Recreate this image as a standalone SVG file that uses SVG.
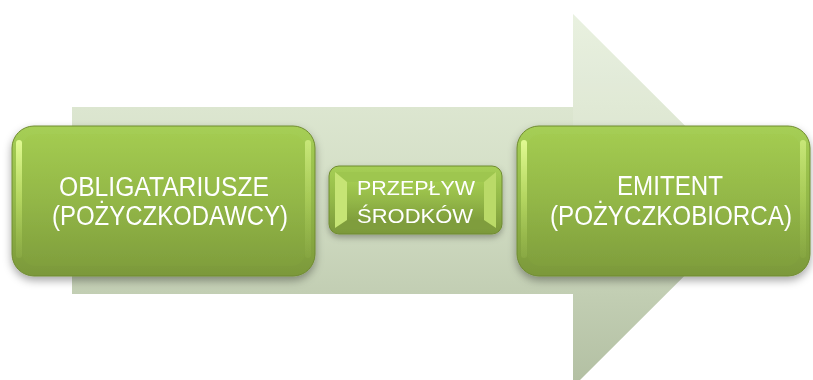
<svg xmlns="http://www.w3.org/2000/svg" width="813" height="380" viewBox="0 0 813 380">
  <defs>
    <linearGradient id="arrowGrad" x1="0" y1="0" x2="0" y2="1">
      <stop offset="0" stop-color="#e6efdc"/>
      <stop offset="0.5" stop-color="#d2ddc4"/>
      <stop offset="1" stop-color="#b2bfa2"/>
    </linearGradient>
    <linearGradient id="boxGrad" x1="0" y1="0" x2="0" y2="1">
      <stop offset="0" stop-color="#a6cf55"/>
      <stop offset="0.5" stop-color="#93b848"/>
      <stop offset="1" stop-color="#7b983a"/>
    </linearGradient>
    <linearGradient id="innerGrad" x1="0" y1="0" x2="0" y2="1">
      <stop offset="0" stop-color="#a3cb51"/>
      <stop offset="0.5" stop-color="#93b747"/>
      <stop offset="1" stop-color="#809f3d"/>
    </linearGradient>
    <linearGradient id="sideGlow" x1="0" y1="0" x2="0" y2="1">
      <stop offset="0" stop-color="#e8ff9a" stop-opacity="0.9"/>
      <stop offset="0.5" stop-color="#c9e870" stop-opacity="0.6"/>
      <stop offset="1" stop-color="#a9c95a" stop-opacity="0.2"/>
    </linearGradient>
    <filter id="shadow" x="-10%" y="-10%" width="120%" height="130%">
      <feDropShadow dx="0" dy="4" stdDeviation="4" flood-color="#000" flood-opacity="0.35"/>
    </filter>
    <filter id="softShadow" x="-10%" y="-10%" width="120%" height="130%">
      <feDropShadow dx="0" dy="3" stdDeviation="3" flood-color="#000" flood-opacity="0.3"/>
    </filter>
  </defs>
  <style>
    .label { font-family: "Liberation Sans", Arial, sans-serif; fill: #ffffff; text-anchor: middle; }
    .big { font-size: 27px; }
    .small { font-size: 20px; }
    .outer { fill: url(#boxGrad); stroke: #6f8b30; stroke-width: 1; }
    .inner { fill: url(#innerGrad); }
    .glow { fill: url(#sideGlow); }
  </style>

  <g id="arrow-background">
    <polygon points="72,107 573,107 573,14 760,200.5 573,387 573,294 72,294" fill="url(#arrowGrad)"/>
    <polygon points="573,14 760,200.5 573,200.5" fill="#ffffff" opacity="0.12"/>
  </g>

  <g id="connectors"></g>

  <g id="node-obligatariusze" filter="url(#shadow)">
    <rect class="outer" x="12" y="126" width="303" height="150" rx="22" ry="22"/>
    <rect class="inner" x="22" y="134" width="283" height="132" rx="14" ry="14"/>
    <rect class="glow" x="16" y="140" width="6" height="118" rx="3"/>
    <rect class="glow" x="305" y="140" width="6" height="118" rx="3" opacity="0.6"/>
    <text class="label big" x="164" y="196" textLength="210" lengthAdjust="spacingAndGlyphs">OBLIGATARIUSZE</text>
    <text class="label big" x="170" y="225" textLength="236" lengthAdjust="spacingAndGlyphs">(POŻYCZKODAWCY)</text>
  </g>

  <g id="node-przeplyw" filter="url(#softShadow)">
    <rect class="outer" x="329" y="166" width="173" height="68" rx="10" ry="10"/>
    <polygon points="335,172 496,172 484,182 347,182" fill="#9ec64f"/>
    <polygon points="335,228 496,228 484,220 347,220" fill="#7f9d3c"/>
    <polygon points="335,172 347,182 347,220 335,228" fill="#c6e474"/>
    <polygon points="496,172 484,182 484,220 496,228" fill="#bada68"/>
    <rect x="347" y="182" width="137" height="38" fill="url(#innerGrad)"/>
    <text class="label small" x="416" y="195" textLength="118" lengthAdjust="spacingAndGlyphs">PRZEPŁYW</text>
    <text class="label small" x="415" y="223" textLength="116" lengthAdjust="spacingAndGlyphs">ŚRODKÓW</text>
  </g>

  <g id="node-emitent" filter="url(#shadow)">
    <rect class="outer" x="517" y="126" width="293" height="150" rx="22" ry="22"/>
    <rect class="inner" x="527" y="134" width="273" height="132" rx="14" ry="14"/>
    <rect class="glow" x="521" y="140" width="6" height="118" rx="3"/>
    <rect class="glow" x="800" y="140" width="6" height="118" rx="3" opacity="0.6"/>
    <text class="label big" x="670" y="195" textLength="106" lengthAdjust="spacingAndGlyphs">EMITENT</text>
    <text class="label big" x="671" y="225" textLength="242" lengthAdjust="spacingAndGlyphs">(POŻYCZKOBIORCA)</text>
  </g>
</svg>
